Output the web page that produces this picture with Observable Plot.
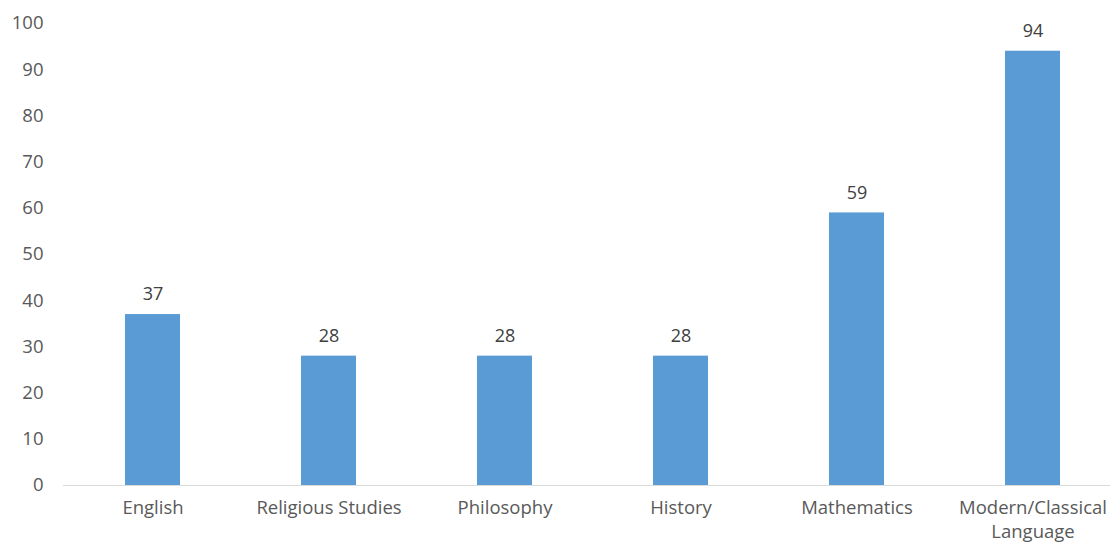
<!DOCTYPE html>
<html>
<head>
<meta charset="utf-8">
<script src="https://cdn.jsdelivr.net/npm/d3@7"></script>
<script src="https://cdn.jsdelivr.net/npm/@observablehq/plot@0.6"></script>
<style>
  html, body { margin: 0; padding: 0; background: #fff; }
  svg { display: block; }
</style>
</head>
<body>
<div id="chart"></div>
<script>
const subjects = ["English", "Religious Studies", "Philosophy", "History", "Mathematics", "Modern/Classical Language"];
const values = [37, 28, 28, 28, 59, 94];
const yTicks = [0, 10, 20, 30, 40, 50, 60, 70, 80, 90, 100];

const data = subjects.map((s, i) => ({subject: s, value: values[i]}));

const chart = Plot.plot({
  width: 1110,
  height: 544,
  marginTop: 23,
  marginBottom: 59,
  marginLeft: 63,
  marginRight: 0,
  style: {fontFamily: "'Open Sans', sans-serif", fontSize: "18px", color: "#595959", background: "#fff"},
  x: {domain: subjects, range: [63, 1122], paddingInner: 0.69, paddingOuter: 0.345, label: null},
  y: {domain: [0, 100], label: null},
  marks: [
    Plot.barY(data, {x: "subject", y: "value", fill: "#5B9BD5"}),
    Plot.ruleY([0], {stroke: "#d9d9d9", strokeWidth: 1}),
    Plot.text(data, {x: "subject", y: "value", text: d => String(d.value), dy: -20, fill: "#404040", fontSize: 18}),
    Plot.axisY({ticks: yTicks, tickSize: 0, tickPadding: 20, label: null, fill: "#595959", fontSize: 18.5}),
    Plot.axisX({tickSize: 0, tickPadding: 12, label: null, fill: "#595959", fontSize: 18.5, lineHeight: 1.28,
      tickFormat: d => d.replace("/Classical ", "/Classical\n")})
  ]
});
document.getElementById("chart").appendChild(chart);
</script>
</body>
</html>
